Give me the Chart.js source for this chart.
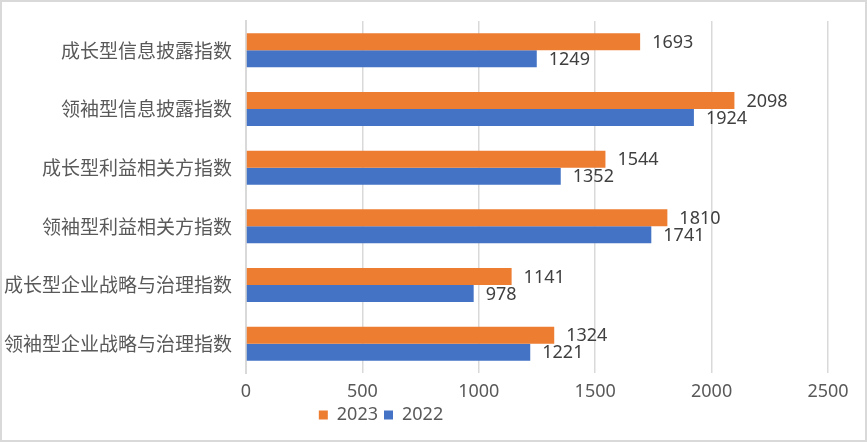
<!DOCTYPE html>
<html>
<head>
<meta charset="utf-8">
<script src="https://cdn.jsdelivr.net/npm/chart.js@4/dist/chart.umd.min.js"></script>
<style>
  body { margin: 0; background: #fff; }
  .box { position: absolute; left: 0; top: 0; width: 867px; height: 442px; box-sizing: border-box; border: 2px solid #d9d9d9; }
  .box canvas { display: block; }
</style>
</head>
<body>
<div class="box"><canvas id="chart" width="863" height="438"></canvas></div>
<script>
// data
const categories = ['成长型信息披露指数', '领袖型信息披露指数', '成长型利益相关方指数', '领袖型利益相关方指数', '成长型企业战略与治理指数', '领袖型企业战略与治理指数'];
const values2023 = [1693, 2098, 1544, 1810, 1141, 1324];
const values2022 = [1249, 1924, 1352, 1741, 978, 1221];
const xTicks = [0, 500, 1000, 1500, 2000, 2500];

const numFont = '"Noto Sans", sans-serif';
const cjkFont = '"Noto Sans CJK SC", sans-serif';

// value labels at bar ends
const barLabels = {
    id: 'barLabels',
    afterLayout(chart) {
        // legend sits a bit left of the middle, like the original
        chart.legend.left = 184;
        chart.legend.right = 574;
    },
    afterDatasetsDraw(chart) {
        const ctx = chart.ctx;
        ctx.save();
        ctx.font = '18px ' + numFont;
        ctx.fillStyle = '#404040';
        ctx.textAlign = 'left';
        ctx.textBaseline = 'middle';
        chart.data.datasets.forEach((ds, i) => {
            chart.getDatasetMeta(i).data.forEach((bar, j) => {
                ctx.fillText(ds.data[j], bar.x + 12, bar.y + 1);
            });
        });
        ctx.restore();
    }
};

new Chart(document.getElementById('chart'), {
    type: 'bar',
    data: {
        labels: categories,
        datasets: [
            { label: '2023', data: values2023, backgroundColor: '#ED7D31' },
            { label: '2022', data: values2022, backgroundColor: '#4472C4' }
        ]
    },
    options: {
        indexAxis: 'y',
        responsive: false,
        animation: false,
        categoryPercentage: 0.58,
        barPercentage: 1,
        layout: { padding: { top: 19, right: 37, left: 2, bottom: 6 } },
        plugins: {
            legend: {
                position: 'bottom',
                labels: {
                    boxWidth: 9,
                    boxHeight: 9,
                    padding: 6,
                    color: '#595959',
                    font: { size: 18, family: numFont }
                }
            },
            tooltip: { enabled: false }
        },
        scales: {
            x: {
                min: 0,
                max: 2500,
                afterBuildTicks(axis) { axis.ticks = xTicks.map(v => ({ value: v })); },
                afterFit(axis) { axis.height = 27; },
                grid: { color: '#d9d9d9', lineWidth: 1.5, drawTicks: false },
                border: { display: false },
                ticks: {
                    color: '#595959',
                    padding: 8,
                    font: { size: 18, family: numFont },
                    callback: v => String(v)
                }
            },
            y: {
                afterFit(axis) { axis.width = 242; },
                grid: { display: false },
                border: { color: '#d9d9d9', width: 2 },
                ticks: { color: '#595959', padding: 6, font: { size: 19, family: cjkFont } }
            }
        }
    },
    plugins: [barLabels]
});
</script>
</body>
</html>
